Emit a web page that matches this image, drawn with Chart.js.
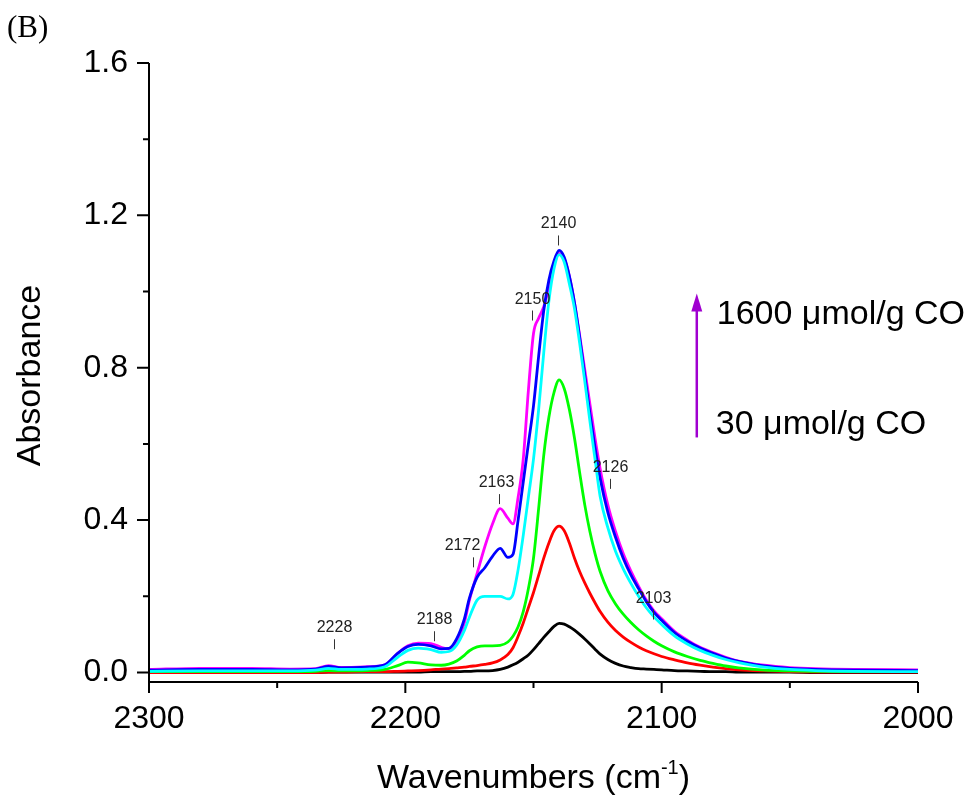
<!DOCTYPE html>
<html lang="en">
<head>
    <meta charset="UTF-8">
    <title>CO adsorption IR spectra (B)</title>
    <style>
        body {
            margin: 0;
            padding: 0;
            background: #fff;
        }

        #wrap {
            position: relative;
            width: 974px;
            height: 801px;
        }
    </style>
    <script src="https://cdn.jsdelivr.net/npm/chart.js"></script>
</head>
<body>
    <div id="wrap">
        <canvas id="irChart" width="974" height="801"></canvas>
    </div>
    <script>
        // Wavenumber grid (cm-1) shared by all spectra
        const wavenumbers = [2300, 2280, 2260, 2245, 2235, 2230, 2225, 2215, 2208, 2203,
            2199, 2195, 2190, 2186, 2183, 2180, 2177, 2175, 2172, 2169,
            2166, 2163, 2160, 2158, 2156, 2154, 2152, 2150, 2148, 2146,
            2144, 2142, 2140, 2138, 2136, 2134, 2132, 2130, 2128, 2126,
            2124, 2121, 2118, 2115, 2112, 2109, 2106, 2103, 2100, 2095,
            2090, 2085, 2080, 2075, 2070, 2060, 2050, 2040, 2025, 2000];

        // Absorbance, from lowest CO dose (black) to highest (magenta)
        const absBlack = [0, 0, 0, 0, 0, 0.001, 0.001, 0.001, 0.001, 0.001,
            0.001, 0.001, 0.002, 0.002, 0.002, 0.002, 0.003, 0.003, 0.004, 0.004,
            0.005, 0.008, 0.014, 0.02, 0.027, 0.036, 0.046, 0.06, 0.076, 0.092,
            0.107, 0.121, 0.129, 0.127, 0.12, 0.111, 0.1, 0.088, 0.075, 0.061,
            0.048, 0.034, 0.024, 0.017, 0.013, 0.01, 0.009, 0.008, 0.007, 0.005,
            0.004, 0.003, 0.002, 0.002, 0.001, 0.001, 0.001, 0, 0, 0];

        const absRed = [0, 0, 0, 0, 0, 0.001, 0.001, 0.002, 0.002, 0.003,
            0.004, 0.005, 0.007, 0.009, 0.01, 0.012, 0.014, 0.016, 0.018, 0.021,
            0.025, 0.033, 0.047, 0.065, 0.095, 0.13, 0.17, 0.21, 0.255, 0.3,
            0.34, 0.372, 0.384, 0.372, 0.34, 0.3, 0.265, 0.235, 0.208, 0.183,
            0.16, 0.132, 0.11, 0.093, 0.079, 0.067, 0.057, 0.049, 0.042, 0.033,
            0.025, 0.019, 0.014, 0.01, 0.007, 0.004, 0.002, 0.001, 0.001, 0.001];

        const absGreen = [0.002, 0.002, 0.002, 0.002, 0.003, 0.005, 0.004, 0.005, 0.008, 0.018,
            0.027, 0.025, 0.02, 0.019, 0.022, 0.03, 0.045, 0.057, 0.067, 0.07,
            0.07, 0.071, 0.08, 0.095, 0.12, 0.16, 0.22, 0.3, 0.43, 0.57,
            0.67, 0.735, 0.768, 0.745, 0.69, 0.615, 0.525, 0.44, 0.37, 0.312,
            0.265, 0.215, 0.18, 0.153, 0.131, 0.112, 0.096, 0.082, 0.07, 0.054,
            0.042, 0.032, 0.024, 0.017, 0.012, 0.006, 0.004, 0.003, 0.002, 0.002];

        const absCyan = [0.003, 0.004, 0.004, 0.004, 0.006, 0.011, 0.008, 0.009, 0.015, 0.04,
            0.058, 0.064, 0.06, 0.053, 0.055, 0.072, 0.11, 0.145, 0.19, 0.2,
            0.2, 0.2, 0.193, 0.205, 0.27, 0.36, 0.46, 0.56, 0.69, 0.84,
            0.975, 1.06, 1.097, 1.077, 1.02, 0.955, 0.865, 0.765, 0.66, 0.56,
            0.462, 0.38, 0.318, 0.272, 0.234, 0.2, 0.17, 0.146, 0.126, 0.096,
            0.075, 0.058, 0.045, 0.034, 0.026, 0.014, 0.008, 0.005, 0.003, 0.002];

        const absBlue = [0.006, 0.008, 0.008, 0.007, 0.009, 0.016, 0.012, 0.014, 0.02, 0.05,
            0.068, 0.074, 0.07, 0.062, 0.063, 0.088, 0.14, 0.195, 0.25, 0.275,
            0.305, 0.326, 0.302, 0.31, 0.4, 0.5, 0.6, 0.7, 0.83, 0.95,
            1.03, 1.08, 1.108, 1.09, 1.04, 0.97, 0.88, 0.78, 0.68, 0.59,
            0.51, 0.42, 0.355, 0.3, 0.256, 0.22, 0.186, 0.158, 0.137, 0.105,
            0.082, 0.064, 0.05, 0.038, 0.029, 0.017, 0.011, 0.008, 0.006, 0.005];

        const absMagenta = [0.008, 0.011, 0.011, 0.009, 0.01, 0.018, 0.013, 0.015, 0.02, 0.05,
            0.07, 0.077, 0.076, 0.066, 0.062, 0.08, 0.13, 0.19, 0.26, 0.33,
            0.39, 0.43, 0.405, 0.39, 0.46, 0.56, 0.74, 0.89, 0.93, 0.96,
            1.01, 1.07, 1.1, 1.085, 1.04, 0.97, 0.885, 0.795, 0.705, 0.615,
            0.535, 0.44, 0.37, 0.312, 0.266, 0.226, 0.19, 0.162, 0.141, 0.108,
            0.085, 0.066, 0.052, 0.04, 0.03, 0.019, 0.013, 0.01, 0.008, 0.007];

        // Axis ticks
        const xMajor = [2300, 2200, 2100, 2000];
        const xMinor = [2250, 2150, 2050];
        const yMajor = [0, 0.4, 0.8, 1.2, 1.6];
        const yMinor = [0.2, 0.6, 1.0, 1.4];

        // Band assignments: marker position (wavenumber, absorbance of marker foot) and label
        const bandLabels = ['2228', '2188', '2172', '2163', '2150', '2140', '2126', '2103'];
        const bandAt = [2228, 2189, 2173.5, 2163.5, 2150.5, 2140.5, 2120, 2103.5];
        const bandLevel = [0.061, 0.082, 0.276, 0.442, 0.924, 1.121, 0.482, 0.139];
        const bandShift = [0, 0, -11, -3, 0, 0, 0, 0];

        const doseHigh = '1600 \u03bcmol/g CO';
        const doseLow = '30 \u03bcmol/g CO';

        const SANS = '"Liberation Sans", Arial, sans-serif';

        function series(values) {
            return wavenumbers.map((w, i) => ({ x: w, y: values[i] }));
        }

        function line(values, colour) {
            return {
                data: series(values),
                borderColor: colour,
                borderWidth: 2.8,
                pointRadius: 0,
                fill: false,
                cubicInterpolationMode: 'monotone'
            };
        }

        // axes, ticks, band markers, arrow and titles
        const decorations = {
            id: 'decorations',
            afterDraw(chart) {
                const ctx = chart.ctx;
                const a = chart.chartArea;
                const x = chart.scales.x;
                const y = chart.scales.y;
                ctx.save();

                // axis lines and ticks
                ctx.strokeStyle = '#000';
                ctx.lineWidth = 2;
                ctx.beginPath();
                ctx.moveTo(a.left, y.getPixelForValue(1.6));
                ctx.lineTo(a.left, a.bottom);
                ctx.lineTo(a.right, a.bottom);
                yMajor.forEach(v => {
                    const py = y.getPixelForValue(v);
                    ctx.moveTo(a.left - 12, py);
                    ctx.lineTo(a.left, py);
                });
                yMinor.forEach(v => {
                    const py = y.getPixelForValue(v);
                    ctx.moveTo(a.left - 6, py);
                    ctx.lineTo(a.left, py);
                });
                xMajor.forEach(v => {
                    const px = x.getPixelForValue(v);
                    ctx.moveTo(px, a.bottom);
                    ctx.lineTo(px, a.bottom + 11);
                });
                xMinor.forEach(v => {
                    const px = x.getPixelForValue(v);
                    ctx.moveTo(px, a.bottom);
                    ctx.lineTo(px, a.bottom + 6);
                });
                ctx.stroke();

                // band markers
                ctx.fillStyle = '#222';
                ctx.strokeStyle = '#333';
                ctx.lineWidth = 1;
                ctx.font = '16px ' + SANS;
                ctx.textAlign = 'center';
                ctx.textBaseline = 'alphabetic';
                bandLabels.forEach((txt, i) => {
                    const px = Math.round(x.getPixelForValue(bandAt[i])) + 0.5;
                    const py = y.getPixelForValue(bandLevel[i]);
                    ctx.beginPath();
                    ctx.moveTo(px, py);
                    ctx.lineTo(px, py - 10);
                    ctx.stroke();
                    ctx.fillText(txt, px + bandShift[i], py - 17);
                });

                // dose arrow
                const ax = x.getPixelForValue(2086.3);
                const aTop = y.getPixelForValue(0.995);
                const aBot = y.getPixelForValue(0.617);
                ctx.strokeStyle = '#a000d0';
                ctx.fillStyle = '#a000d0';
                ctx.lineWidth = 2.5;
                ctx.beginPath();
                ctx.moveTo(ax, aBot);
                ctx.lineTo(ax, aTop + 14);
                ctx.stroke();
                ctx.beginPath();
                ctx.moveTo(ax, aTop);
                ctx.lineTo(ax - 5.5, aTop + 18);
                ctx.lineTo(ax + 5.5, aTop + 18);
                ctx.closePath();
                ctx.fill();

                ctx.fillStyle = '#000';
                ctx.font = '34px ' + SANS;
                ctx.textAlign = 'left';
                ctx.textBaseline = 'middle';
                ctx.fillText(doseHigh, ax + 20, y.getPixelForValue(0.94));
                ctx.fillText(doseLow, ax + 19, y.getPixelForValue(0.65));

                // axis titles
                ctx.save();
                ctx.translate(31, (y.getPixelForValue(1.6) + a.bottom) / 2 + 3);
                ctx.rotate(-Math.PI / 2);
                ctx.textAlign = 'center';
                ctx.fillText('Absorbance', 0, 0);
                ctx.restore();

                const t1 = 'Wavenumbers (cm';
                const sup = '-1';
                const t2 = ')';
                ctx.font = '34px ' + SANS;
                const w1 = ctx.measureText(t1).width;
                const w2 = ctx.measureText(t2).width;
                ctx.font = '20px ' + SANS;
                const ws = ctx.measureText(sup).width;
                let tx = (a.left + a.right) / 2 - (w1 + ws + w2) / 2;
                const base = 788;
                ctx.textAlign = 'left';
                ctx.textBaseline = 'alphabetic';
                ctx.font = '34px ' + SANS;
                ctx.fillText(t1, tx, base);
                tx += w1;
                ctx.font = '20px ' + SANS;
                ctx.fillText(sup, tx, base - 14);
                tx += ws;
                ctx.font = '34px ' + SANS;
                ctx.fillText(t2, tx, base);

                // panel letter
                ctx.font = '31px "Liberation Serif", "Times New Roman", serif';
                ctx.fillText('(B)', 7, 37);

                ctx.restore();
            }
        };

        const ctx = document.getElementById('irChart').getContext('2d');
        new Chart(ctx, {
            type: 'line',
            data: {
                datasets: [
                    line(absCyan, '#00ffff'),
                    line(absBlue, '#0000ff'),
                    line(absMagenta, '#ff00ff'),
                    line(absGreen, '#00ff00'),
                    line(absRed, '#ff0000'),
                    line(absBlack, '#000000')
                ]
            },
            options: {
                responsive: false,
                animation: false,
                events: [],
                layout: {
                    padding: { left: 0, top: 63, right: 56, bottom: 0 }
                },
                plugins: {
                    legend: { display: false },
                    tooltip: { enabled: false }
                },
                scales: {
                    x: {
                        type: 'linear',
                        reverse: true,
                        min: 2000,
                        max: 2300,
                        grid: { display: false, drawTicks: false },
                        border: { display: false },
                        afterFit: s => { s.height = 119; },
                        afterBuildTicks: s => { s.ticks = xMajor.map(v => ({ value: v })); },
                        ticks: {
                            color: '#000',
                            padding: 18,
                            maxRotation: 0,
                            font: { family: SANS, size: 32 },
                            callback: v => String(v)
                        }
                    },
                    y: {
                        min: -0.025,
                        max: 1.6,
                        grid: { display: false, drawTicks: false },
                        border: { display: false },
                        afterFit: s => { s.width = 149; },
                        afterBuildTicks: s => { s.ticks = yMajor.map(v => ({ value: v })); },
                        ticks: {
                            color: '#000',
                            padding: 21,
                            font: { family: SANS, size: 32 },
                            callback: v => v.toFixed(1)
                        }
                    }
                }
            },
            plugins: [decorations]
        });
    </script>
</body>
</html>
